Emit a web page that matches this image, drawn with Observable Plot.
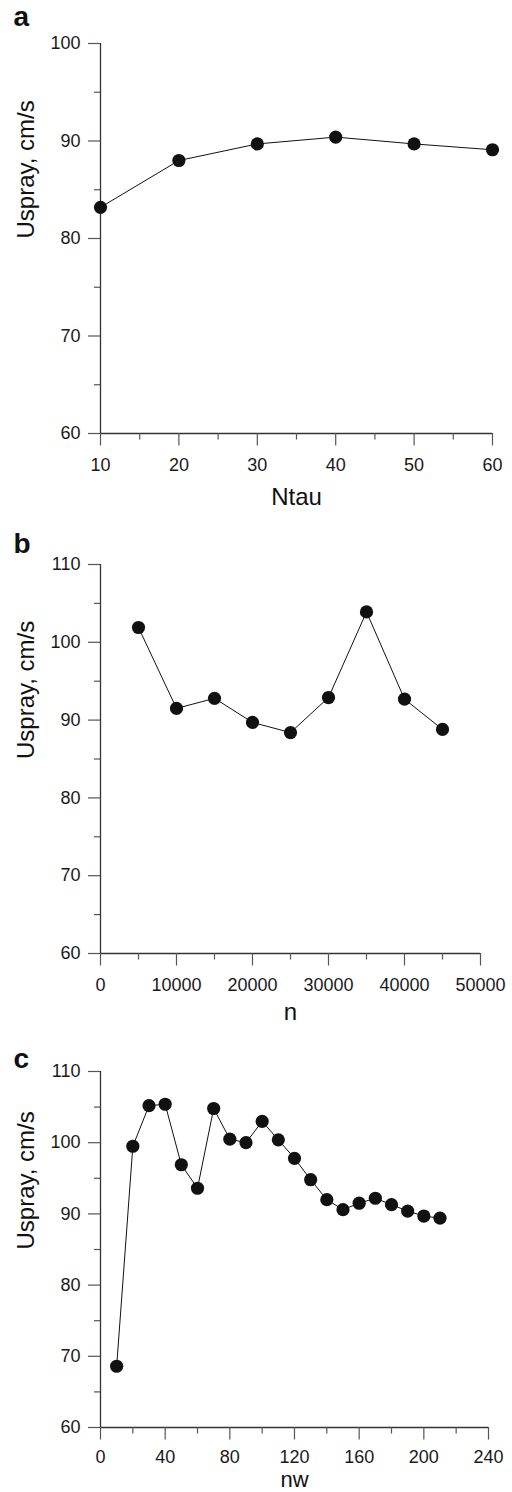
<!DOCTYPE html>
<html><head><meta charset="utf-8">
<script src="https://cdn.jsdelivr.net/npm/d3@7"></script>
<script src="https://cdn.jsdelivr.net/npm/@observablehq/plot@0.6"></script>
<style>
body{margin:0;background:#fff;}
#wrap{width:512px;}
#wrap svg{display:block;}
</style>
</head><body><div id="wrap"></div>
<script>
// Panel a
const ntau = [10, 20, 30, 40, 50, 60];
const usprayA = [83.2, 88.0, 89.7, 90.4, 89.7, 89.1];
const xMajorA = [10, 20, 30, 40, 50, 60];
const xMinorA = [15, 25, 35, 45, 55];
const yMajorA = [60, 70, 80, 90, 100];
const yMinorA = [65, 75, 85, 95];

// Panel b
const nSteps = [5000, 10000, 15000, 20000, 25000, 30000, 35000, 40000, 45000];
const usprayB = [101.9, 91.5, 92.8, 89.7, 88.4, 92.9, 103.9, 92.7, 88.8];
const xMajorB = [0, 10000, 20000, 30000, 40000, 50000];
const xMinorB = [5000, 15000, 25000, 35000, 45000];
const yMajorB = [60, 70, 80, 90, 100, 110];
const yMinorB = [65, 75, 85, 95, 105];

// Panel c
const nw = [10, 20, 30, 40, 50, 60, 70, 80, 90, 100, 110, 120, 130, 140, 150, 160, 170, 180, 190, 200, 210];
const usprayC = [68.6, 99.5, 105.2, 105.4, 96.9, 93.6, 104.8, 100.5, 100.0, 103.0, 100.4, 97.8, 94.8, 92.0, 90.6, 91.5, 92.2, 91.3, 90.4, 89.7, 89.4];
const xMajorC = [0, 40, 80, 120, 160, 200, 240];
const xMinorC = [20, 60, 100, 140, 180, 220];
const yMajorC = [60, 70, 80, 90, 100, 110];
const yMinorC = [65, 75, 85, 95, 105];

const FONT = "'Liberation Sans', Arial, Helvetica, sans-serif";
const fmt = d3.format("d");

function panel(o) {
  const data = o.xs.map((x, i) => ({x, y: o.ys[i]}));
  return Plot.plot({
    width: 512,
    height: o.height,
    marginLeft: 100,
    marginRight: o.mr,
    marginTop: o.mt,
    marginBottom: o.mb,
    style: {fontFamily: FONT, fontSize: "18px", color: "#222", background: "#fff", overflow: "visible"},
    x: {domain: o.xDomain, label: null},
    y: {domain: o.yDomain, label: null},
    marks: [
      Plot.ruleY([o.yDomain[0]], {stroke: "#333", strokeWidth: 1.3}),
      Plot.ruleX([o.xDomain[0]], {stroke: "#333", strokeWidth: 1.3}),
      Plot.axisX(o.xMajor, {tickSize: 12.5, tickPadding: o.xPad, tickFormat: fmt, fontSize: 18, stroke: "#555", strokeWidth: 1.2, fill: "#1a1a1a", label: null}),
      Plot.axisX(o.xMinor, {tickSize: 6.5, tickFormat: () => "", stroke: "#555", strokeWidth: 1.2, label: null}),
      Plot.axisY(o.yMajor, {tickSize: 12, tickPadding: 8, tickFormat: fmt, fontSize: 18, stroke: "#555", strokeWidth: 1.2, fill: "#1a1a1a", label: null}),
      Plot.axisY(o.yMinor, {tickSize: 6, tickFormat: () => "", stroke: "#555", strokeWidth: 1.2, label: null}),
      Plot.line(data, {x: "x", y: "y", stroke: "#111", strokeWidth: 1}),
      Plot.dot(data, {x: "x", y: "y", r: 6.6, fill: "#111", stroke: "none"}),
      Plot.text([o.letter], {frameAnchor: "top-left", text: d => d, dx: -87, dy: o.letterDy, lineAnchor: "top", textAnchor: "start", fontSize: 28, fontWeight: "bold", fill: "#111"}),
      Plot.text([o.xLabel], {frameAnchor: "bottom", text: d => d, dy: o.xLabelDy, lineAnchor: "top", fontSize: o.xLabelSize, fill: "#111"}),
      Plot.text(["Uspray, cm/s"], {frameAnchor: "left", text: d => d, dx: -84, rotate: -90, lineAnchor: "top", fontSize: 24, fill: "#111"})
    ]
  });
}

const wrap = document.getElementById("wrap");
wrap.appendChild(panel({
  letter: "a", xs: ntau, ys: usprayA, xDomain: [10, 60], yDomain: [60, 100],
  xMajor: xMajorA, xMinor: xMinorA, yMajor: yMajorA, yMinor: yMinorA, xPad: 12,
  xLabel: "Ntau", xLabelSize: 24, height: 520, mt: 43, mb: 87, mr: 20, letterDy: -37, xLabelDy: 54
}));
wrap.appendChild(panel({
  letter: "b", xs: nSteps, ys: usprayB, xDomain: [0, 50000], yDomain: [60, 110],
  xMajor: xMajorB, xMinor: xMinorB, yMajor: yMajorB, yMinor: yMinorB, xPad: 12,
  xLabel: "n", xLabelSize: 24, height: 510, mt: 44, mb: 77, mr: 32, letterDy: -31, xLabelDy: 49
}));
wrap.appendChild(panel({
  letter: "c", xs: nw, ys: usprayC, xDomain: [0, 240], yDomain: [60, 110],
  xMajor: xMajorC, xMinor: xMinorC, yMajor: yMajorC, yMinor: yMinorC, xPad: 10,
  xLabel: "nw", xLabelSize: 22, height: 462, mt: 41, mb: 65, mr: 24, letterDy: -23, xLabelDy: 44
}));
</script>
</body></html>
